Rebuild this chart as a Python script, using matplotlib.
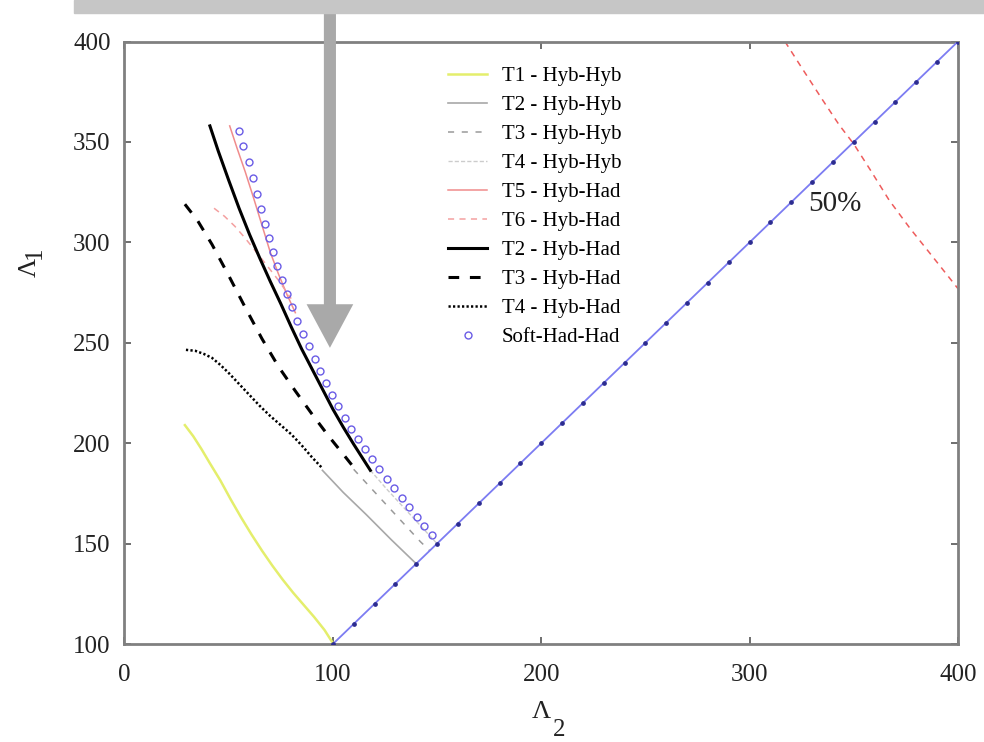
import matplotlib.pyplot as plt
from matplotlib.patches import Rectangle, FancyArrow

plt.rcParams['font.family'] = ['Liberation Serif', 'DejaVu Serif']

# --- data (Lambda_2, Lambda_1) ---
t1_hh_x = [29, 33, 37, 41, 46, 51, 56, 61, 66, 71, 76, 81, 86, 91, 96, 100]
t1_hh_y = [209, 203.5, 197, 190, 181.5, 172, 163, 154.5, 146.5, 139, 132, 125.5, 119.5, 113.5, 107, 100.5]

t2_hh_x = [95, 105, 116, 128, 140]
t2_hh_y = [186.5, 175.5, 164.5, 152, 140]

t3_hh_x = [110, 118, 126, 134, 142, 146.5]
t3_hh_y = [187, 178, 169, 160, 151, 146.5]

t4_hh_x = [118, 126, 134, 142, 150]
t4_hh_y = [186.5, 177, 168, 159, 150]

t5_ha_x = [50.5, 54, 58, 62, 66, 70, 74, 78, 82]
t5_ha_y = [358, 347, 335, 322, 308.5, 295, 284, 274, 265]

t6_ha_x = [43, 48, 53, 58, 63, 68, 74, 80]
t6_ha_y = [317, 313, 308, 302, 295.5, 289, 281, 272]
t6_ha_far_x = [317, 325, 335, 343, 350, 358, 367, 377, 387, 400]
t6_ha_far_y = [400, 387, 371, 358.5, 349, 336, 321, 307, 294, 277]

t2_ha_x = [41, 45, 50, 55, 60, 65, 70, 75, 80, 85, 90, 95, 100, 105, 110, 114, 118]
t2_ha_y = [358, 345.5, 331, 317, 304, 292, 280.5, 269.5, 258, 247, 237, 227, 217, 208, 199.5, 193, 186.5]

t3_ha_x = [29, 35, 42, 50, 58, 66, 74, 82, 90, 98, 105, 110]
t3_ha_y = [319, 311, 299, 283.5, 267.5, 252, 238, 226, 214.5, 203.5, 194.5, 188]

t4_ha_x = [29.5, 34, 38, 42, 46, 50, 55, 60, 65, 70, 75, 80, 85, 90, 95]
t4_ha_y = [246.5, 246, 244.5, 242.5, 239, 235, 229.5, 224, 218.5, 213.5, 209, 204.5, 199, 193, 187.5]

soft_x = [55.2, 57.1, 59.6, 61.6, 63.5, 65.4, 67.5, 69.6, 71.5, 73.4, 75.6, 78.0,
          80.5, 83.0, 85.6, 88.4, 91.2, 93.8, 96.6, 99.6, 102.7, 105.7, 108.8, 112.0,
          115.4, 118.8, 122.3, 125.8, 129.4, 133.0, 136.6, 140.2, 143.8, 147.4]
soft_y = [355.5, 347.8, 340.0, 332.1, 324.1, 316.6, 309.3, 302.3, 295.2, 288.2, 281.2, 274.4,
          267.7, 261.1, 254.6, 248.2, 242.0, 235.9, 229.9, 224.0, 218.3, 212.7, 207.3, 202.0,
          196.9, 191.9, 187.0, 182.2, 177.6, 172.9, 168.3, 163.5, 158.8, 154.2]

# equal-mass line
diag = [100, 110, 120, 130, 140, 150, 160, 170, 180, 190, 200, 210, 220, 230, 240, 250,
        260, 270, 280, 290, 300, 310, 320, 330, 340, 350, 360, 370, 380, 390, 400]

fig = plt.figure(figsize=(9.84, 7.42), dpi=100)
ax = fig.add_axes([0.1265, 0.132, 0.847, 0.812])

ax.plot(t1_hh_x, t1_hh_y, color='#e4ee6c', lw=1.8, label='T1 - Hyb-Hyb')
ax.plot(t2_hh_x, t2_hh_y, color='#a8a8a8', lw=1.2, label='T2 - Hyb-Hyb')
ax.plot(t3_hh_x, t3_hh_y, color='#9a9a9a', lw=1.1, dashes=(4, 5), label='T3 - Hyb-Hyb')
ax.plot(t4_hh_x, t4_hh_y, color='#cccccc', lw=1.0, dashes=(3, 1.5), label='T4 - Hyb-Hyb')
ax.plot(t5_ha_x, t5_ha_y, color='#f08c8c', lw=1.1, label='T5 - Hyb-Had')
ax.plot(t6_ha_x, t6_ha_y, color='#f4a0a0', lw=1.1, dashes=(4, 3.5), label='T6 - Hyb-Had')
ax.plot(t6_ha_far_x, t6_ha_far_y, color='#ee5c5c', lw=1.1, dashes=(4, 3.5))
ax.plot(t2_ha_x, t2_ha_y, color='black', lw=2.2, label='T2 - Hyb-Had')
ax.plot(t3_ha_x, t3_ha_y, color='black', lw=2.2, dashes=(3.5, 3.5), label='T3 - Hyb-Had')
ax.plot(t4_ha_x, t4_ha_y, color='black', lw=1.8, dashes=(0.9, 0.9), label='T4 - Hyb-Had')
ax.plot(diag, diag, color='#7c7cf2', lw=1.3, marker='o', ms=2.4,
        mfc='#2c2c90', mec='#2c2c90', zorder=4)
ax.plot(soft_x, soft_y, ls='none', marker='o', ms=5, mfc='none', mec='#6a5ce6',
        mew=1.0, label='Soft-Had-Had', zorder=5)

ax.text(341, 319, '50%', fontsize=21, ha='center', va='center', color='#222222')

ax.set_xlim(0, 400)
ax.set_ylim(100, 400)
ax.set_xticks([0, 100, 200, 300, 400])
ax.set_yticks([100, 150, 200, 250, 300, 350, 400])
ax.tick_params(direction='in', top=True, right=True, length=5, width=1.2,
               color='#555555', labelsize=18, labelcolor='#222222')
ax.tick_params(axis='x', pad=14)
ax.tick_params(axis='y', pad=10)
for sp in ax.spines.values():
    sp.set_color('#808080')
    sp.set_linewidth(2)

# axis labels, subscript drawn at full size as in the original
ax.set_xlabel('\u039b', fontsize=19, color='#222222')
ax.xaxis.set_label_coords(0.5, -0.095)
ax.annotate('2', xy=(1, 0), xycoords=ax.xaxis.label, xytext=(1.5, 3),
            textcoords='offset points', ha='left', va='top', fontsize=18, color='#222222')
ax.set_ylabel('\u039b', fontsize=19, color='#222222')
ax.yaxis.set_label_coords(-0.1, 0.625)
ax.annotate('1', xy=(1, 1), xycoords=ax.yaxis.label, xytext=(3.5, -1),
            textcoords='offset points', ha='right', va='bottom', rotation=90,
            fontsize=18, color='#222222')

ax.legend(loc='upper left', bbox_to_anchor=(0.388, 0.958), frameon=False, fontsize=15,
          handlelength=1.9, handletextpad=0.7, labelspacing=0.45, borderpad=0,
          borderaxespad=0, numpoints=1)

# grey banner and arrow overlay
fig.patches.append(Rectangle((0.075, 0.983), 0.925, 0.017, transform=fig.transFigure,
                             color='#c6c6c6', zorder=10))
arrow = FancyArrow(98.6, 414.6, 0, -167.1, width=5.8, head_width=22.4, head_length=21.7,
                   length_includes_head=True, color='#a9a9a9', lw=0, clip_on=False, zorder=10)
ax.add_patch(arrow)

fig.savefig('out.png', dpi=100)
